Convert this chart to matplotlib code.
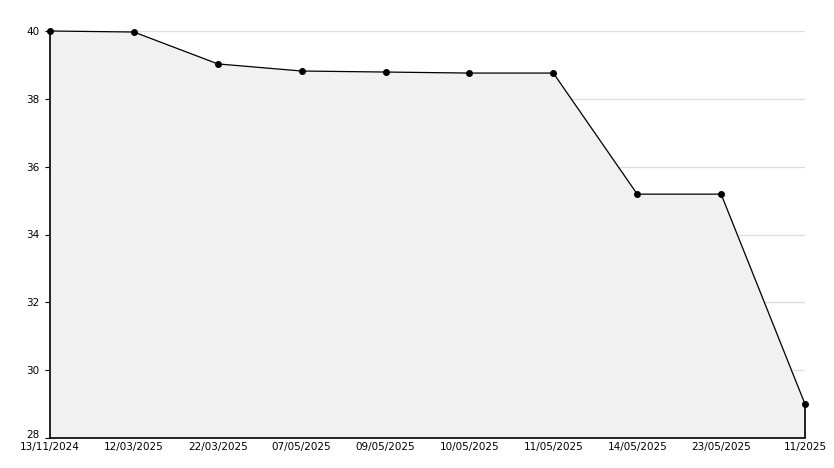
import matplotlib
matplotlib.use("Agg")
import matplotlib.pyplot as plt
from matplotlib.ticker import MultipleLocator
from matplotlib.transforms import ScaledTranslation

# valeurs
dates = ["13/11/2024", "12/03/2025", "22/03/2025", "07/05/2025", "09/05/2025",
         "10/05/2025", "11/05/2025", "14/05/2025", "23/05/2025", "11/2025"]
values = [40.0, 39.97, 39.03, 38.82, 38.79, 38.76, 38.76, 35.19, 35.19, 29.0]
y_ticks = [28, 30, 32, 34, 36, 38, 40]

fig = plt.figure(figsize=(8.34, 4.68), dpi=100)
ax = fig.add_axes([50 / 834, 30 / 468, 755 / 834, 407 / 468])

x = list(range(len(values)))
ax.fill_between(x, values, 28, color="#f1f1f1", zorder=1)
ax.plot(x, values, color="black", linewidth=0.9, marker="o", markersize=4,
        zorder=3, clip_on=False)
ax.vlines(x[-1], 28, values[-1], color="black", linewidth=1.2, zorder=3, clip_on=False)

ax.set_xlim(0, len(values) - 1)
ax.set_ylim(28, 40)
ax.set_yticks(y_ticks)
ax.yaxis.set_minor_locator(MultipleLocator(1))
ax.set_xticks(x)
ax.set_xticklabels(dates)

ax.grid(True, axis="y", color="#dddddd", linewidth=0.9, zorder=0)
ax.set_axisbelow(True)

for side in ["top", "right"]:
    ax.spines[side].set_visible(False)
ax.spines["left"].set_linewidth(1.2)
ax.spines["bottom"].set_linewidth(1.2)

ax.tick_params(axis="y", which="major", direction="inout", length=7, labelsize=7.5, pad=4)
ax.tick_params(axis="y", which="minor", direction="in", length=3)
ax.tick_params(axis="x", direction="in", length=5, labelsize=7.5, pad=3)

# le "28" est un peu remonté pour ne pas toucher la date
lbl = ax.get_yticklabels()[0]
lbl.set_transform(lbl.get_transform() + ScaledTranslation(0, 3 / 72, fig.dpi_scale_trans))

fig.savefig("out.png", dpi=100, facecolor="white")
